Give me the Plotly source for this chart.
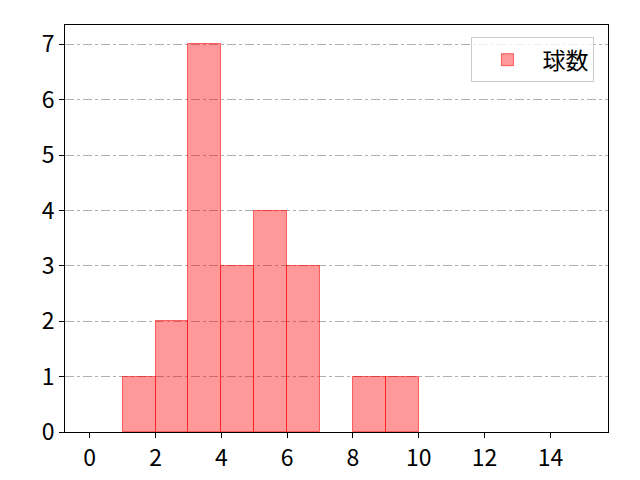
import plotly.graph_objects as go

# histogram bins (left edge) and counts
bin_starts = [1, 2, 3, 4, 5, 6, 8, 9]
counts = [1, 2, 7, 3, 4, 3, 1, 1]
x_ticks = [0, 2, 4, 6, 8, 10, 12, 14]
y_ticks = [0, 1, 2, 3, 4, 5, 6, 7]

fig = go.Figure()
fig.add_trace(go.Bar(
    x=bin_starts, y=counts, offset=0, width=1, name="球数",
    marker=dict(color="rgba(255,0,0,0.4)",
                line=dict(color="rgba(255,0,0,0.55)", width=1)),
    showlegend=True,
))

font = "Noto Sans CJK JP, DejaVu Sans, sans-serif"
fig.update_layout(
    width=624, height=464,
    margin=dict(l=57, r=24, t=17, b=40),
    plot_bgcolor="white", paper_bgcolor="white",
    font=dict(family=font, size=23, color="black"),
    bargap=0,
    showlegend=True,
    legend=dict(x=0.975, y=0.97, xanchor="right", yanchor="top",
                bordercolor="#cccccc", borderwidth=1,
                bgcolor="rgba(255,255,255,0.8)",
                itemwidth=60,
                font=dict(size=23)),
)
fig.update_xaxes(range=[-0.75, 15.75], tickvals=x_ticks, ticks="outside",
                 ticklen=5, tickcolor="black", showgrid=False, automargin=False,
                 tickfont=dict(size=23),
                 showline=True, linecolor="black", mirror=True, zeroline=False)
fig.update_yaxes(range=[0, 7.35], tickvals=y_ticks, ticks="outside",
                 ticklen=5, tickcolor="black", showgrid=True, automargin=False,
                 tickfont=dict(size=23),
                 gridcolor="#b0b0b0", griddash="dashdot", gridwidth=1,
                 showline=True, linecolor="black", mirror=True, zeroline=False)

fig.write_html("out.html")
